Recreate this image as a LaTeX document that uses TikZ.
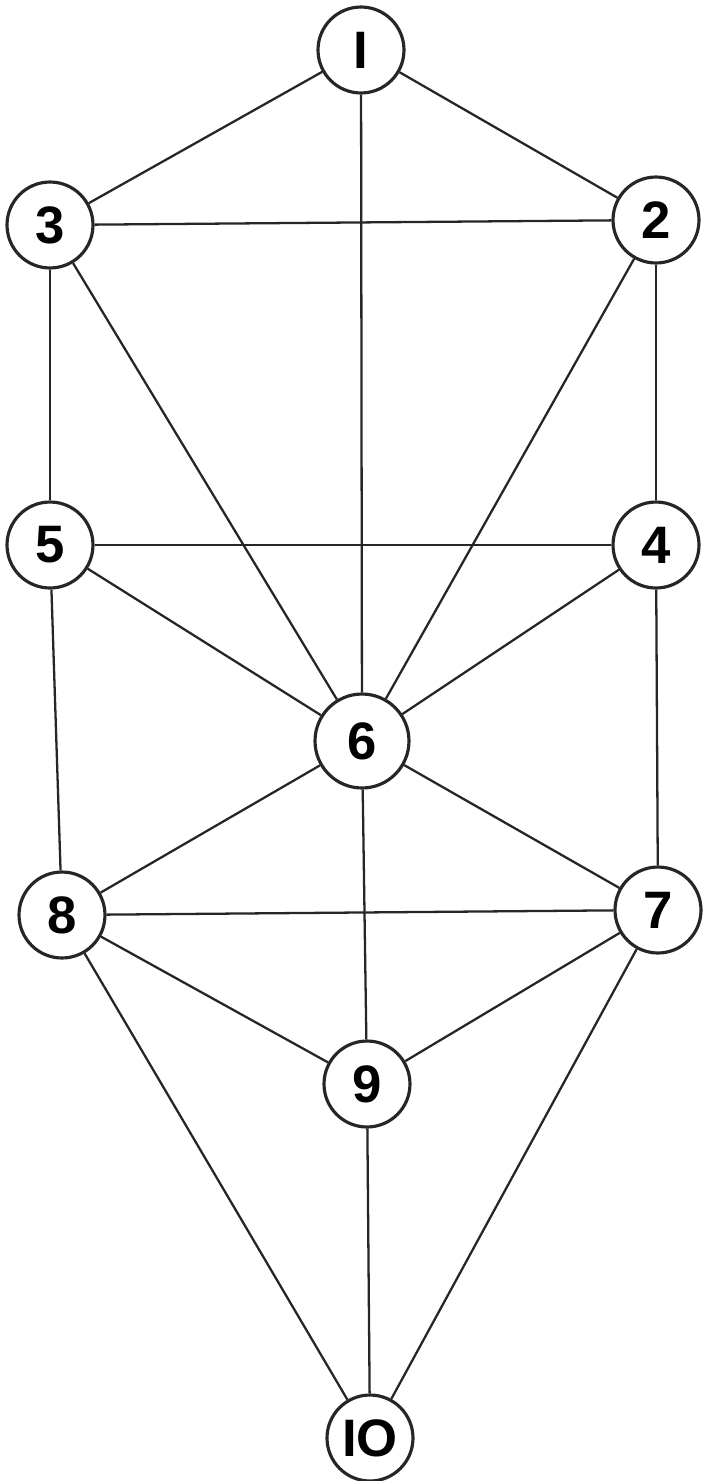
\documentclass[tikz,border=0pt]{standalone}
\usepackage{fontspec}
\setmainfont{Liberation Sans}
\usepackage{tikz}
\usetikzlibrary{positioning}

\begin{document}
\begin{tikzpicture}[
x=0.02cm, y=-0.02cm,
sefira/.style={circle, draw=black!85, line width=1.8pt, fill=white,
minimum size=1.72cm, inner sep=0pt, font=\fontsize{30}{30}\selectfont\bfseries},
path/.style={draw=black!85, line width=1.3pt}
]
\useasboundingbox (0,0) rectangle (704,1481);

% the ten circles
\node[sefira] (n1) at (361,50) {I};
\node[sefira] (n2) at (656,220) {2};
\node[sefira] (n3) at (50,225) {3};
\node[sefira] (n4) at (656,545) {4};
\node[sefira] (n5) at (50,545) {5};
\node[sefira, minimum size=1.88cm] (n6) at (362,741) {6};
\node[sefira] (n7) at (658,910) {7};
\node[sefira] (n8) at (62,915) {8};
\node[sefira] (n9) at (367,1084) {9};
\node[sefira] (n10) at (370,1438) {IO};

% the paths between them
\draw[path] (n1) -- (n3);
\draw[path] (n1) -- (n2);
\draw[path] (n1) -- (n6);
\draw[path] (n3) -- (n2);
\draw[path] (n3) -- (n5);
\draw[path] (n3) -- (n6);
\draw[path] (n2) -- (n6);
\draw[path] (n2) -- (n4);
\draw[path] (n5) -- (n4);
\draw[path] (n5) -- (n6);
\draw[path] (n5) -- (n8);
\draw[path] (n4) -- (n6);
\draw[path] (n4) -- (n7);
\draw[path] (n6) -- (n8);
\draw[path] (n6) -- (n7);
\draw[path] (n6) -- (n9);
\draw[path] (n8) -- (n7);
\draw[path] (n8) -- (n9);
\draw[path] (n8) -- (n10);
\draw[path] (n7) -- (n9);
\draw[path] (n7) -- (n10);
\draw[path] (n9) -- (n10);

\end{tikzpicture}
\end{document}
